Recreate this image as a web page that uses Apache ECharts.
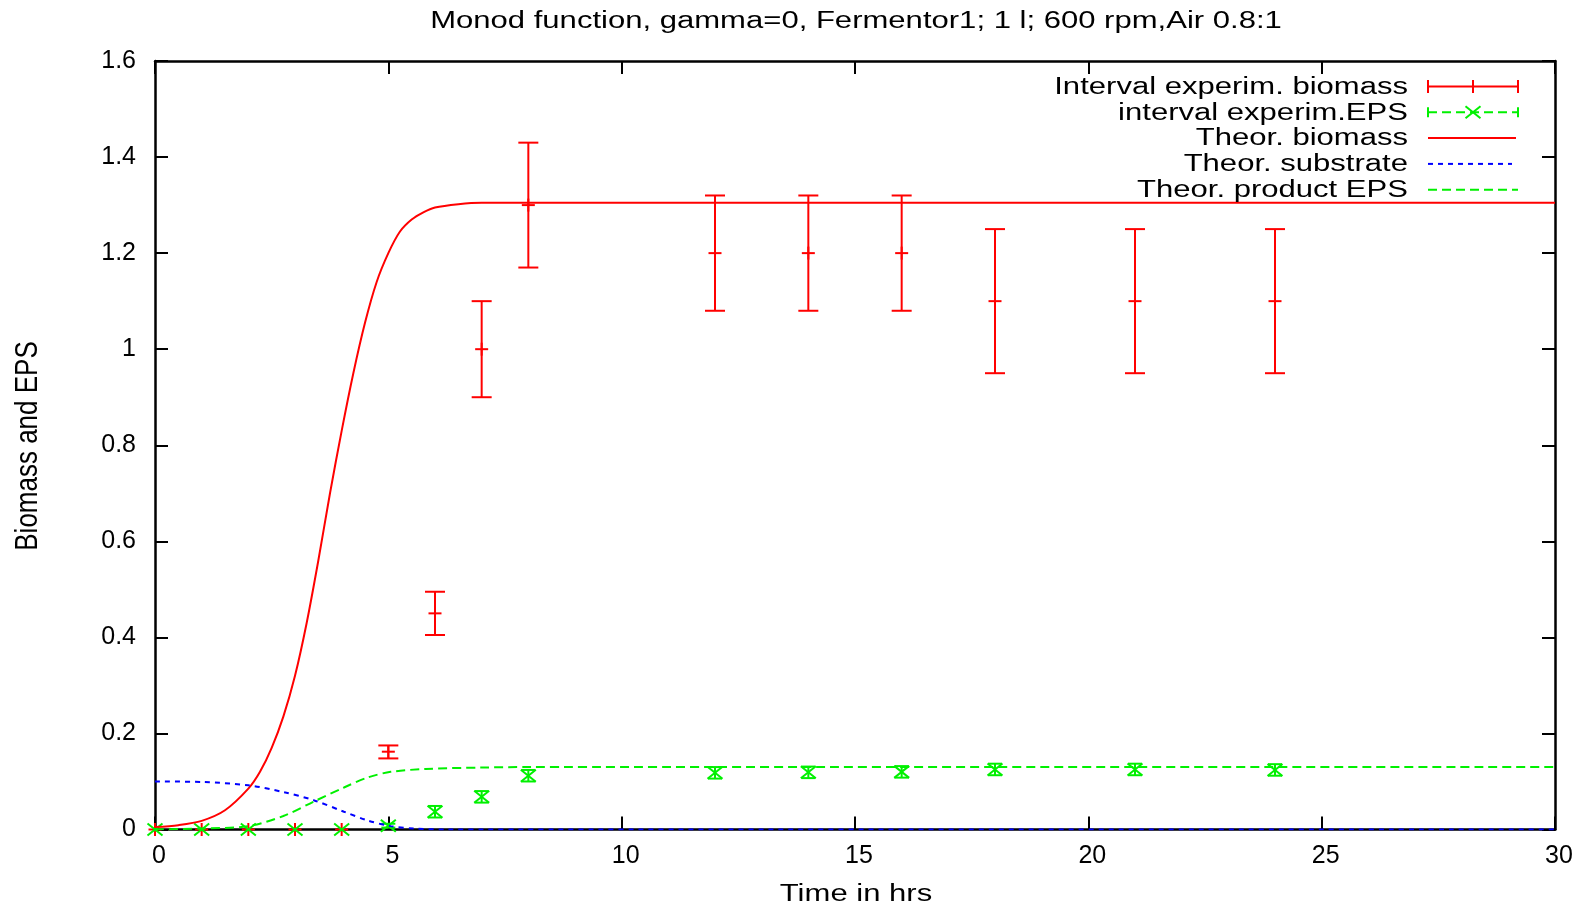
<!DOCTYPE html>
<html><head><meta charset="utf-8">
<script src="https://cdn.jsdelivr.net/npm/echarts@6/dist/echarts.min.js"></script>
<style>html,body{margin:0;padding:0;background:#fff}#c{width:1590px;height:909px}</style>
</head><body><div id="c"></div>
<script>
// ---------- data ----------
const titleText = 'Monod function, gamma=0, Fermentor1; 1 l; 600 rpm,Air 0.8:1';
const xName = 'Time in hrs';
const yName = 'Biomass and EPS';
const legendNames = ['Interval experim. biomass', 'interval experim.EPS', 'Theor. biomass', 'Theor. substrate', 'Theor. product EPS'];
const xMin = 0, xMax = 30, xStep = 5;
const yMin = 0, yMax = 1.6, yStep = 0.2;

// experimental biomass (value, low, high)
const bioT    = [0, 1, 2, 3, 4, 5, 6, 7, 8, 12, 14, 16, 18, 21, 24];
const bioVal  = [0, 0, 0, 0, 0, 0.162, 0.45, 1.0, 1.3, 1.2, 1.2, 1.2, 1.1, 1.1, 1.1];
const bioLow  = [0, 0, 0, 0, 0, 0.148, 0.405, 0.9, 1.17, 1.08, 1.08, 1.08, 0.95, 0.95, 0.95];
const bioHigh = [0, 0, 0, 0, 0, 0.175, 0.495, 1.1, 1.43, 1.32, 1.32, 1.32, 1.25, 1.25, 1.25];

// experimental EPS (value, low, high)
const epsT    = [0, 1, 2, 3, 4, 5, 6, 7, 8, 12, 14, 16, 18, 21, 24];
const epsVal  = [0, 0, 0, 0, 0, 0.008, 0.037, 0.068, 0.112, 0.118, 0.119, 0.12, 0.125, 0.125, 0.124];
const epsLow  = [0, 0, 0, 0, 0, 0.004, 0.025, 0.056, 0.1, 0.106, 0.107, 0.108, 0.113, 0.113, 0.112];
const epsHigh = [0, 0, 0, 0, 0, 0.012, 0.049, 0.08, 0.124, 0.13, 0.131, 0.132, 0.137, 0.137, 0.136];

// theoretical curves
const thBioT = [0, 0.5, 1, 1.5, 2, 2.25, 2.5, 2.75, 3, 3.25, 3.5, 3.75, 4, 4.25, 4.5, 4.75, 5, 5.25, 5.5, 5.75, 6, 6.5, 7, 8, 30];
const thBioV = [0.005, 0.009, 0.018, 0.04, 0.085, 0.12, 0.17, 0.235, 0.32, 0.43, 0.56, 0.7, 0.83, 0.95, 1.055, 1.14, 1.2, 1.245, 1.27, 1.285, 1.295, 1.302, 1.305, 1.305, 1.305];
const thSubT = [0, 1, 2, 2.75, 3.4, 4.05, 4.55, 5.05, 5.55, 6.2, 30];
const thSubV = [0.1, 0.099, 0.092, 0.078, 0.061, 0.037, 0.019, 0.007, 0.002, 0, 0];
const thEpsT = [0, 1, 2, 2.75, 3.4, 4.05, 4.55, 5.05, 5.8, 7, 8, 30];
const thEpsV = [0, 0.002, 0.007, 0.028, 0.058, 0.0875, 0.108, 0.12, 0.126, 0.129, 0.13, 0.13];

// ---------- styling ----------
const RED = '#ff0000', GREEN = '#00f000', BLUE = '#0000ff';
const FONT = '"Liberation Sans", Arial, Helvetica, sans-serif';
const SX = 1.35; // horizontal text stretch of the reference

const zip = (a, b) => a.map((v, i) => [v, b[i]]);
const zip4 = (a, b, c, d) => a.map((v, i) => [v, b[i], c[i], d[i]]);

function renderBio(params, api) {
  const x = api.value(0), v = api.value(1), lo = api.value(2), hi = api.value(3);
  const pc = api.coord([x, v]), pl = api.coord([x, lo]), ph = api.coord([x, hi]);
  const st = { stroke: RED, lineWidth: 2, fill: null };
  const ch = [];
  if (hi > lo) {
    ch.push({ type: 'line', shape: { x1: pl[0], y1: pl[1], x2: ph[0], y2: ph[1] }, style: st });
    ch.push({ type: 'line', shape: { x1: pl[0] - 10, y1: pl[1], x2: pl[0] + 10, y2: pl[1] }, style: st });
    ch.push({ type: 'line', shape: { x1: ph[0] - 10, y1: ph[1], x2: ph[0] + 10, y2: ph[1] }, style: st });
  }
  ch.push({ type: 'line', shape: { x1: pc[0] - 6.5, y1: pc[1], x2: pc[0] + 6.5, y2: pc[1] }, style: st });
  ch.push({ type: 'line', shape: { x1: pc[0], y1: pc[1] - 6.5, x2: pc[0], y2: pc[1] + 6.5 }, style: st });
  return { type: 'group', children: ch };
}
function renderEps(params, api) {
  const x = api.value(0), v = api.value(1), lo = api.value(2), hi = api.value(3);
  const pc = api.coord([x, v]), pl = api.coord([x, lo]), ph = api.coord([x, hi]);
  const st = { stroke: GREEN, lineWidth: 2, fill: null };
  const ch = [];
  if (hi > lo) {
    ch.push({ type: 'line', shape: { x1: pl[0], y1: pl[1], x2: ph[0], y2: ph[1] }, style: st });
    ch.push({ type: 'line', shape: { x1: pl[0] - 7, y1: pl[1], x2: pl[0] + 7, y2: pl[1] }, style: st });
    ch.push({ type: 'line', shape: { x1: ph[0] - 7, y1: ph[1], x2: ph[0] + 7, y2: ph[1] }, style: st });
  }
  ch.push({ type: 'line', shape: { x1: pc[0] - 7.5, y1: pc[1] - 6, x2: pc[0] + 7.5, y2: pc[1] + 6 }, style: st });
  ch.push({ type: 'line', shape: { x1: pc[0] - 7.5, y1: pc[1] + 6, x2: pc[0] + 7.5, y2: pc[1] - 6 }, style: st });
  return { type: 'group', children: ch };
}

const axisLineStyle = { color: '#000', width: 2.5 };
const tickStyle = { color: '#000', width: 2 };
const labelStyle = { color: '#000', fontSize: 25, fontFamily: FONT };

// legend (drawn as graphic so that its text can be stretched like the reference)
const LX = 1408, LS = 1428, LE = 1518, LY0 = 87.5, LDY = 25.8;
const legendGraphics = [];
legendNames.forEach((n, i) => {
  legendGraphics.push({ type: 'text', x: LX, y: LY0 + i * LDY, scaleX: SX, z: 100,
    style: { text: n, font: '23px ' + FONT, fill: '#000', textAlign: 'right', textVerticalAlign: 'middle' } });
});
(function () {
  const y1 = LY0 - 1, y2 = y1 + LDY, y3 = y1 + 2 * LDY, y4 = y1 + 3 * LDY, y5 = y1 + 4 * LDY, m = (LS + LE) / 2;
  const L = (x1, ya, x2, yb, st) => ({ type: 'line', z: 100, shape: { x1: x1, y1: ya, x2: x2, y2: yb }, style: st });
  const r = { stroke: RED, lineWidth: 2 }, g = { stroke: GREEN, lineWidth: 2 }, gd = { stroke: GREEN, lineWidth: 2, lineDash: [9, 5] };
  legendGraphics.push(L(LS, y1, LE, y1, r), L(LS, y1 - 6.5, LS, y1 + 6.5, r), L(LE, y1 - 6.5, LE, y1 + 6.5, r), L(m, y1 - 6.5, m, y1 + 6.5, r));
  legendGraphics.push(L(LS, y2, LE, y2, gd), L(LS, y2 - 5, LS, y2 + 5, g), L(LE, y2 - 5, LE, y2 + 5, g),
    L(m - 7.5, y2 - 6, m + 7.5, y2 + 6, g), L(m - 7.5, y2 + 6, m + 7.5, y2 - 6, g));
  legendGraphics.push(L(LS, y3, LE - 2, y3, r));
  legendGraphics.push(L(LS, y4, LE - 6, y4, { stroke: BLUE, lineWidth: 2, lineDash: [5, 5] }));
  legendGraphics.push(L(LS, y5, LE, y5, gd));
})();

const chart = echarts.init(document.getElementById('c'), null, { renderer: 'canvas' });
chart.setOption({
  animation: false,
  backgroundColor: '#fff',
  grid: { left: 155, right: 35, top: 61, bottom: 79.5, containLabel: false },
  xAxis: [
    { type: 'value', min: xMin, max: xMax, interval: xStep, position: 'bottom',
      axisLine: { onZero: false, lineStyle: axisLineStyle },
      axisTick: { inside: true, length: 13, lineStyle: tickStyle },
      axisLabel: Object.assign({ margin: 14, padding: [0, 0, 0, 8] }, labelStyle), splitLine: { show: false } },
    { type: 'value', min: xMin, max: xMax, interval: xStep, position: 'top',
      axisLine: { onZero: false, lineStyle: axisLineStyle },
      axisTick: { inside: true, length: 13, lineStyle: tickStyle },
      axisLabel: { show: false }, splitLine: { show: false } }
  ],
  yAxis: [
    { type: 'value', min: yMin, max: yMax, interval: yStep, position: 'left',
      axisLine: { show: true, onZero: false, lineStyle: axisLineStyle },
      axisTick: { show: true, inside: true, length: 13, lineStyle: tickStyle },
      axisLabel: Object.assign({ margin: 19, formatter: v => String(+v.toFixed(1)) }, labelStyle), splitLine: { show: false } },
    { type: 'value', min: yMin, max: yMax, interval: yStep, position: 'right',
      axisLine: { show: true, onZero: false, lineStyle: axisLineStyle },
      axisTick: { show: true, inside: true, length: 13, lineStyle: tickStyle },
      axisLabel: { show: false }, splitLine: { show: false } }
  ],
  graphic: [
    { type: 'text', x: 856, y: 22, scaleX: SX,
      style: { text: titleText, font: '23px ' + FONT, fill: '#000', textAlign: 'center', textVerticalAlign: 'middle' } },
    { type: 'text', x: 856, y: 895, scaleX: SX,
      style: { text: xName, font: '23px ' + FONT, fill: '#000', textAlign: 'center', textVerticalAlign: 'middle' } },
    { type: 'text', x: 28, y: 446, rotation: Math.PI / 2, scaleX: 1.13, scaleY: SX,
      style: { text: yName, font: '23px ' + FONT, fill: '#000', textAlign: 'center', textVerticalAlign: 'middle' } }
  ].concat(legendGraphics),
  series: [
    { name: legendNames[0], type: 'custom', xAxisIndex: 0, yAxisIndex: 0, renderItem: renderBio,
      data: zip4(bioT, bioVal, bioLow, bioHigh), encode: { x: 0, y: [1, 2, 3] }, z: 3 },
    { name: legendNames[1], type: 'custom', xAxisIndex: 0, yAxisIndex: 0, renderItem: renderEps,
      data: zip4(epsT, epsVal, epsLow, epsHigh), encode: { x: 0, y: [1, 2, 3] }, z: 4 },
    { name: legendNames[2], type: 'line', data: zip(thBioT, thBioV), showSymbol: false, smooth: 0.3,
      lineStyle: { color: RED, width: 2 }, itemStyle: { color: RED }, z: 5 },
    { name: legendNames[3], type: 'line', data: zip(thSubT, thSubV), showSymbol: false, smooth: 0.3,
      lineStyle: { color: BLUE, width: 2, type: [5, 5] }, itemStyle: { color: BLUE }, z: 5 },
    { name: legendNames[4], type: 'line', data: zip(thEpsT, thEpsV), showSymbol: false, smooth: 0.3,
      lineStyle: { color: GREEN, width: 2, type: [9, 5] }, itemStyle: { color: GREEN }, z: 5 }
  ]
});
</script></body></html>
